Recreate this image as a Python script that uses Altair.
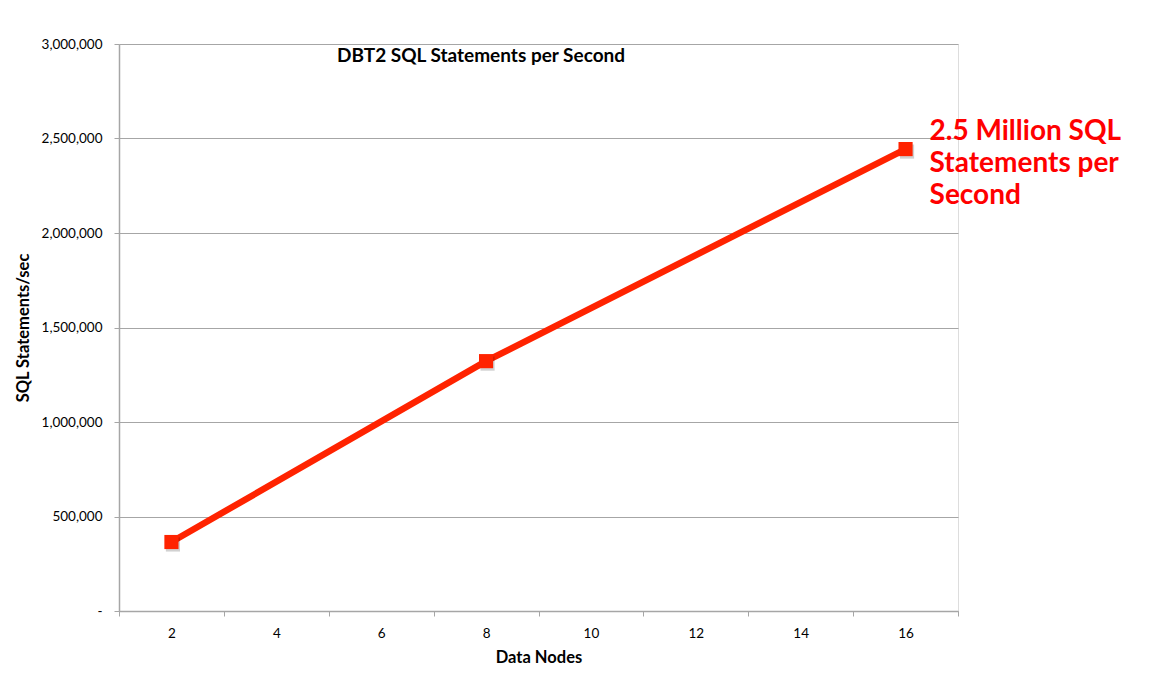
import altair as alt
import pandas as pd

# Data
nodes = [2, 8, 16]
statements = [365000, 1322000, 2444000]
x_tick_values = list(range(1, 18))          # band edges (odd) + labels (even)
y_tick_values = [0, 500000, 1000000, 1500000, 2000000, 2500000, 3000000]
annotation = ["2.5 Million SQL", "Statements per", "Second"]
chart_title = "DBT2 SQL Statements per Second"

df = pd.DataFrame({"nodes": nodes, "sql": statements})
ann_df = pd.DataFrame({"nodes": [nodes[-1]], "sql": [statements[-1]], "label": [annotation]})

W, H = 839, 567
FONT = "Lato"
LINE_COLOR = "#FF2300"
GRID = "#A6A6A6"

x_enc = alt.X(
    "nodes:Q",
    scale=alt.Scale(domain=[1, 17], nice=False, zero=False),
    axis=alt.Axis(
        values=x_tick_values,
        title="Data Nodes",
        titleFont=FONT, titleFontSize=16.5, titleFontWeight="bold", titleColor="black",
        titlePadding=10,
        labelFont=FONT, labelFontSize=13.5, labelColor="black",
        labelExpr="datum.value % 2 == 0 ? datum.label : ''",
        labelPadding=10,
        tickSize=5, tickColor=GRID,
        tickOpacity={"condition": {"test": "datum.value % 2 == 0", "value": 0}, "value": 1},
        domainColor=GRID, domainWidth=1.5, grid=False,
    ),
)
y_enc = alt.Y(
    "sql:Q",
    scale=alt.Scale(domain=[0, 3000000], nice=False),
    axis=alt.Axis(
        values=y_tick_values,
        title="SQL Statements/sec",
        titleFont=FONT, titleFontSize=16.5, titleFontWeight="bold", titleColor="black",
        titlePadding=10,
        labelFont=FONT, labelFontSize=13.5, labelColor="black",
        labelExpr="datum.value == 0 ? '-\u00a0\u00a0' : format(datum.value, ',')",
        labelPadding=12,
        tickSize=5, tickColor=GRID,
        domainColor=GRID, domainWidth=1.5,
        grid=True, gridColor=GRID, gridWidth=1.2,
    ),
)

base = alt.Chart(df)

line = base.mark_line(color=LINE_COLOR, strokeWidth=6.5).encode(x=x_enc, y=y_enc)
shadow = base.mark_square(color="#000000", opacity=0.18, size=200, xOffset=1.5, yOffset=2.5).encode(x="nodes:Q", y="sql:Q")
points = base.mark_square(color=LINE_COLOR, opacity=1, size=200).encode(x="nodes:Q", y="sql:Q")

ann = alt.Chart(ann_df).mark_text(
    align="left", baseline="middle", dx=24, dy=-17,
    font=FONT, fontSize=28, fontWeight="bold", color="#FF0000", lineHeight=32,
).encode(x="nodes:Q", y="sql:Q", text="label")

title_text = alt.Chart(pd.DataFrame({"t": [chart_title]})).mark_text(
    align="center", baseline="middle", font=FONT, fontSize=19, fontWeight="bold", color="black",
).encode(x=alt.value(362), y=alt.value(12), text="t:N")

chart = alt.layer(line, shadow, points, ann, title_text).properties(
    width=W, height=H,
    autosize=alt.AutoSizeParams(type="none"),
    padding={"left": 111, "top": 36, "right": 208, "bottom": 81},
).configure_view(stroke=None).configure(background="white")

chart.save("out.html", embed_options={"renderer": "svg", "actions": False})
